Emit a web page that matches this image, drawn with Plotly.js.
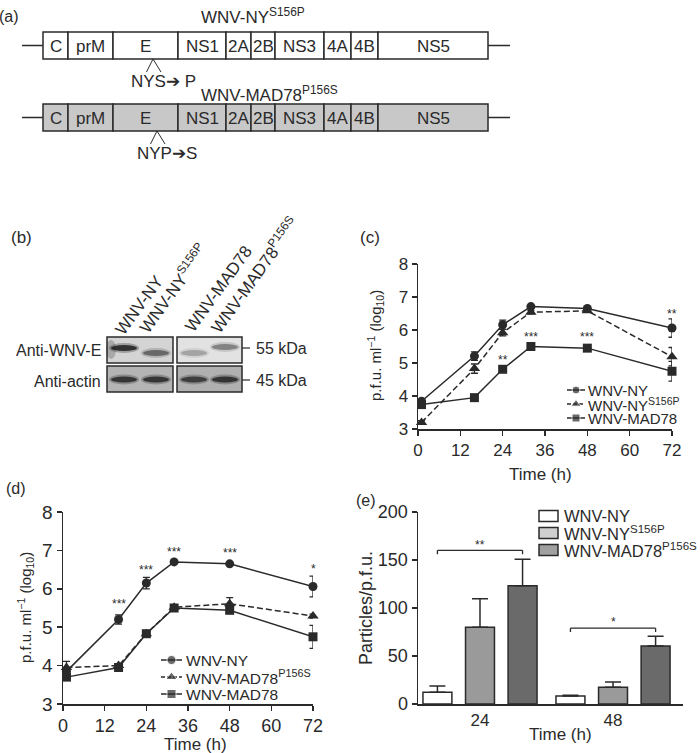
<!DOCTYPE html>
<html><head><meta charset="utf-8">
<script src="https://cdn.plot.ly/plotly-3.0.1.min.js"></script>
<style>html,body{margin:0;padding:0;background:#fff}#chart{width:700px;height:753px}</style>
</head><body><div id="chart"></div>
<script>
// ---------------- DATA ----------------
// (a) genome diagram
const geneNames = ['C','prM','E','NS1','2A','2B','NS3','4A','4B','NS5'];
const geneLengths = [25,45,65,48,25,24,49,27,27,110];
const constructNames = ['WNV-NY<sup>S156P</sup>','WNV-MAD78<sup>P156S</sup>'];
const mutationLabels = ['NYS➔ P','NYP➔S'];
const mutationSite = [110,114];

// (b) western blot
const blotLanes = ['WNV-NY','WNV-NY<sup>S156P</sup>','WNV-MAD78','WNV-MAD78<sup>P156S</sup>'];
const eBandIntensity = [0.85,0.5,0.25,0.4];
const actinIntensity = [0.78,0.78,0.72,0.8];
const blotRows = ['Anti-WNV-E','Anti-actin'];
const sizeMarkers = ['55 kDa','45 kDa'];

// (c) growth curves
const timeC = [1,16,24,32,48,72];
const nyC = [3.84,5.21,6.16,6.71,6.65,6.06];
const nyCerr = [0.05,0.13,0.14,0.04,0.04,0.28];
const nyS156PC = [3.2,4.83,5.92,6.54,6.58,5.19];
const nyS156PCerr = [0.05,0.14,0.1,0.05,0.04,0.28];
const mad78C = [3.74,3.95,4.81,5.5,5.45,4.75];
const mad78Cerr = [0.05,0.05,0.05,0.04,0.04,0.3];
const seriesC = ['WNV-NY','WNV-NY<sup>S156P</sup>','WNV-MAD78'];
const sigCx = [24,32,48,72];
const sigCy = [5.1,5.8,5.8,6.5];
const sigCtext = ['**','***','***','**'];

// (d) growth curves
const timeD = [1,16,24,32,48,72];
const nyD = [3.85,5.2,6.15,6.7,6.65,6.06];
const nyDerr = [0.05,0.12,0.15,0.04,0.04,0.27];
const mad78P156SD = [3.95,4.0,4.83,5.52,5.61,5.29];
const mad78P156SDerr = [0.16,0.04,0.04,0.05,0.16,0.05];
const mad78D = [3.7,3.95,4.83,5.5,5.44,4.75];
const mad78Derr = [0.05,0.05,0.05,0.04,0.05,0.3];
const seriesD = ['WNV-NY','WNV-MAD78<sup>P156S</sup>','WNV-MAD78'];
const sigDx = [16,24,32,48,72];
const sigDy = [5.6,6.5,6.97,6.92,6.52];
const sigDtext = ['***','***','***','***','*'];

// (e) particle / pfu ratio
const timeE = ['24','48'];
const seriesE = ['WNV-NY','WNV-NY<sup>S156P</sup>','WNV-MAD78<sup>P156S</sup>'];
const nyE = [12.2,8.3];
const nyEerr = [6.6,0.7];
const nyS156PE = [79.9,17.4];
const nyS156PEerr = [29.8,5.5];
const mad78P156SE = [123.3,60.4];
const mad78P156SEerr = [27.4,10.1];
const sigEgroup = [0,1];
const sigEy = [160,79];
const sigEtext = ['**','*'];

// ---------------- STYLE ----------------
const FONT = 'Liberation Sans, Arial, sans-serif';
const NARROW = 'Liberation Sans Narrow, Arial Narrow, Liberation Sans, sans-serif';
const INK = '#2a2a2a';
const traces = [];
const shapes = [];
const ann = [];
const P = {xaxis:'x4', yaxis:'y4'};
function txt(x,y,text,size,opt){
  ann.push(Object.assign({xref:'x4',yref:'y4',x:x,y:y,text:text,showarrow:false,
    font:{family:FONT,size:size,color:INK},xanchor:'center',yanchor:'middle'},opt||{}));
}
function narrow(size){return {font:{family:NARROW,size:size,color:INK}};}

// ---------- (a) genome ----------
const gStart = 43, rowY = [45.5,117.5], rowFill = ['#ffffff','#c8c8c8'], rowH = 27;
const gBase = []; let acc = 0;
geneLengths.forEach(l=>{gBase.push(gStart+acc); acc+=l;});
const gEnd = gStart+acc;
rowY.forEach((ry,r)=>{
  traces.push(Object.assign({type:'bar',orientation:'h',y:geneLengths.map(()=>ry),x:geneLengths,
    base:gBase,width:rowH,offset:-rowH/2,textposition:'none',marker:{color:rowFill[r],line:{color:INK,width:1.5}},
    hoverinfo:'skip'},P));
  geneNames.forEach((g,i)=>txt(gBase[i]+geneLengths[i]/2, ry+1, g, 17, narrow(17)));
  shapes.push({type:'line',xref:'x4',yref:'y4',x0:22,x1:gStart,y0:ry,y1:ry,line:{color:INK,width:1.5}});
  shapes.push({type:'line',xref:'x4',yref:'y4',x0:gEnd,x1:510,y0:ry,y1:ry,line:{color:INK,width:1.5}});
  const apex = gStart+mutationSite[r], yb = ry+rowH/2;
  traces.push(Object.assign({type:'scatter',mode:'lines',x:[apex-6.5,apex,apex+8],y:[yb+13,yb,yb+13],
    line:{color:INK,width:1},hoverinfo:'skip'},P));
  txt(apex+10, yb+22, mutationLabels[r], 17, narrow(17));
});
txt(253,16,constructNames[0],17,narrow(17));
txt(269,94,constructNames[1],17,narrow(17));

// ---------- (b) western blot ----------
const laneX = [124,156,194,225];
const eBandY = [348,353,353,347];
const boxes = [[107,173,337,363,'#d4d4d4'],[177,242,337,363,'#e2e2e2'],
               [107,173,366,392,'#b4b4b4'],[177,242,366,392,'#b0b0b0']];
boxes.forEach(b=>shapes.push({type:'rect',xref:'x4',yref:'y4',x0:b[0],x1:b[1],y0:b[2],y1:b[3],
  fillcolor:b[4],line:{color:INK,width:1.5},layer:'below'}));
shapes.push({type:'circle',xref:'x4',yref:'y4',x0:106,x1:116,y0:340,y1:359,fillcolor:'rgba(40,40,40,0.25)',line:{width:0}});
function band(xc,yc,w,h,v){
  shapes.push({type:'circle',xref:'x4',yref:'y4',x0:xc-w/2-2,x1:xc+w/2+2,y0:yc-h/2-2,y1:yc+h/2+2,
    fillcolor:'rgba(30,30,30,'+(v*0.35).toFixed(3)+')',line:{width:0}});
  shapes.push({type:'circle',xref:'x4',yref:'y4',x0:xc-w/2,x1:xc+w/2,y0:yc-h/2,y1:yc+h/2,
    fillcolor:'rgba(30,30,30,'+v+')',line:{width:0}});
}
eBandIntensity.forEach((v,i)=>band(laneX[i],eBandY[i],26,6,v));
actinIntensity.forEach((v,i)=>band(laneX[i],379.5,26,6,v));
[348,380].forEach(y=>shapes.push({type:'line',xref:'x4',yref:'y4',x0:242,x1:250,y0:y,y1:y,line:{color:INK,width:1.2}}));
txt(103,350,blotRows[0],16,{xanchor:'right'});
txt(103,381,blotRows[1],16,{xanchor:'right'});
txt(254,348,sizeMarkers[0],16,{xanchor:'left'});
txt(254,380,sizeMarkers[1],16,{xanchor:'left'});
const laneLabelPos = [[139,305],[173,288],[218,289],[254,275]];
blotLanes.forEach((l,i)=>txt(laneLabelPos[i][0],laneLabelPos[i][1],l,17,{textangle:-54}));

// ---------- line panels ----------
const markerSyms = ['circle','triangle-up','square'];
const dashes = ['solid','6px,3px','solid'];
function lineSeries(xa,ya,t,y,e,i,msize){
  traces.push({type:'scatter',mode:'lines+markers',x:t,y:y,xaxis:xa,yaxis:ya,
    line:{color:INK,width:1.5,dash:dashes[i]},
    marker:{symbol:markerSyms[i],size:i===1?msize+1:msize,color:INK},
    error_y:{type:'data',array:e,color:INK,thickness:1.3,width:3.5},cliponaxis:false,hoverinfo:'skip'});
}
// (c)
lineSeries('x','y',timeC,mad78C,mad78Cerr,2,9);
lineSeries('x','y',timeC,nyS156PC,nyS156PCerr,1,9);
lineSeries('x','y',timeC,nyC,nyCerr,0,9);
sigCx.forEach((x,i)=>ann.push({xref:'x',yref:'y',x:x,y:sigCy[i],text:sigCtext[i],showarrow:false,
  font:{family:FONT,size:12,color:INK}}));
// (d)
lineSeries('x2','y2',timeD,mad78D,mad78Derr,2,9);
lineSeries('x2','y2',timeD,mad78P156SD,mad78P156SDerr,1,9);
lineSeries('x2','y2',timeD,nyD,nyDerr,0,9);
sigDx.forEach((x,i)=>ann.push({xref:'x2',yref:'y2',x:x,y:sigDy[i],text:sigDtext[i],showarrow:false,
  font:{family:FONT,size:12,color:INK}}));

// manual legends for (c) and (d)
function lineLegend(names,x0,x1,xt,rows,msize,fsize){
  names.forEach((n,i)=>{
    const ry = rows[i];
    traces.push(Object.assign({type:'scatter',mode:'lines+markers',x:[x0,(x0+x1)/2,x1],y:[ry,ry,ry],
      line:{color:INK,width:1.5,dash:i===1?'4px,2px':'solid'},
      marker:{symbol:markerSyms[i],size:[0,i===1?msize+1:msize,0],color:INK},hoverinfo:'skip',cliponaxis:false},P));
    txt(xt,ry,n,fsize,{xanchor:'left'});
  });
}
lineLegend(seriesC,567,585,586,[390,404,418],8,15);
lineLegend(seriesD,161,182,184,[660,677,694],9,15.5);

// ---------- (e) bars ----------
const barFill = ['#ffffff','#9a9a9a','#6a6a6a'];
const legFill = ['#ffffff','#cfcfcf','#a0a0a0'];
[[nyE,nyEerr],[nyS156PE,nyS156PEerr],[mad78P156SE,mad78P156SEerr]].forEach((d,i)=>{
  traces.push({type:'bar',x:timeE,y:d[0],xaxis:'x3',yaxis:'y3',name:seriesE[i],textposition:'none',
    marker:{color:barFill[i],line:{color:INK,width:1.5}},
    error_y:{type:'data',symmetric:false,array:d[1],arrayminus:d[1].map(()=>0),color:INK,thickness:1.5,width:8},
    cliponaxis:false,hoverinfo:'skip'});
});
const bargap = 0.04, slot = (1-bargap)/3;
sigEgroup.forEach((g,i)=>{
  const xa = g-slot, xb = g+slot, y = sigEy[i];
  shapes.push({type:'line',xref:'x3',yref:'y3',x0:xa,x1:xb,y0:y,y1:y,line:{color:INK,width:1.3}});
  shapes.push({type:'line',xref:'x3',yref:'y3',x0:xa,x1:xa,y0:y,y1:y-4,line:{color:INK,width:1.3}});
  shapes.push({type:'line',xref:'x3',yref:'y3',x0:xb,x1:xb,y0:y,y1:y-4,line:{color:INK,width:1.3}});
  ann.push({xref:'x3',yref:'y3',x:g,y:y+6,text:sigEtext[i],showarrow:false,font:{family:FONT,size:12,color:INK}});
});
const legRows = [516,533,550];
seriesE.forEach((n,i)=>{
  shapes.push({type:'rect',xref:'x4',yref:'y4',x0:539,x1:558,y0:legRows[i]-5.5,y1:legRows[i]+5.5,
    fillcolor:legFill[i],line:{color:INK,width:1.5}});
  txt(562,legRows[i],n,16.5,{xanchor:'left'});
});

// ---------- axis titles & panel letters ----------
const yTitle = 'p.f.u. ml<sup>−1</sup> (log<sub>10</sub>)';
txt(375,346,yTitle,15,{textangle:-90});
txt(25,608,yTitle,15,{textangle:-90});
txt(366,608,'Particles/p.f.u.',18,{textangle:-90});
txt(540,474,'Time (h)',17);
txt(195,744,'Time (h)',17);
txt(560,734,'Time (h)',17);
txt(9,16,'(a)',15,narrow(16));
txt(21,237,'(b)',17);
txt(370,237,'(c)',17);
txt(16,488,'(d)',16);
txt(366,500,'(e)',16);

// ---------- axes ----------
function ax(domain,extra,fs){
  return Object.assign({domain:domain,showline:true,linecolor:INK,linewidth:1.5,ticks:'outside',ticklen:5,
    tickwidth:1.5,tickcolor:INK,showgrid:false,zeroline:false,fixedrange:true,
    tickfont:{family:FONT,size:fs,color:INK}},extra);
}
const ty = v=>1-v/753, tx = v=>v/700;
const layout = {
  width:700,height:753,margin:{l:0,r:0,t:0,b:0},paper_bgcolor:'#fff',plot_bgcolor:'rgba(0,0,0,0)',
  showlegend:false,barmode:'group',bargap:bargap,bargroupgap:0.32,
  xaxis:ax([tx(418),tx(672)],{anchor:'y',range:[0,72],tickvals:[0,12,24,36,48,60,72]},17),
  yaxis:ax([ty(429),ty(264)],{anchor:'x',range:[3,8],dtick:1},17),
  xaxis2:ax([tx(63),tx(313)],{anchor:'y2',range:[0,72],tickvals:[0,12,24,36,48,60,72]},18),
  yaxis2:ax([ty(704),ty(512)],{anchor:'x2',range:[3,8],dtick:1},19),
  xaxis3:ax([tx(418),tx(683)],{anchor:'y3',type:'category',range:[-0.466,1.526],ticks:'',ticklen:0},17),
  yaxis3:ax([ty(704),ty(512)],{anchor:'x3',range:[0,200],dtick:50},18),
  xaxis4:{domain:[0,1],range:[0,700],visible:false,anchor:'y4',fixedrange:true},
  yaxis4:{domain:[0,1],range:[753,0],visible:false,anchor:'x4',fixedrange:true},
  shapes:shapes,annotations:ann
};
Plotly.newPlot('chart',traces,layout,{staticPlot:true,displayModeBar:false});
</script></body></html>
